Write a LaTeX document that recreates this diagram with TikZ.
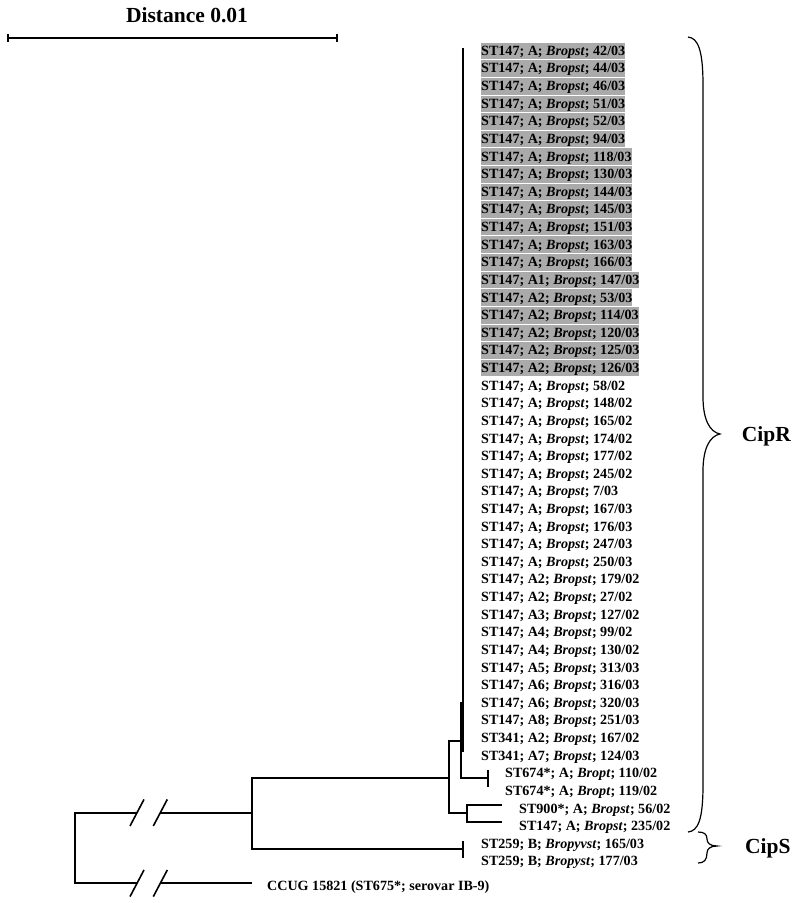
\documentclass[tikz,border=0pt]{standalone}
\usepackage{fontspec}
\setmainfont{Liberation Serif}
\usetikzlibrary{calc}
\definecolor{hl}{RGB}{170,170,170}
\begin{document}
\begin{tikzpicture}[x=1pt,y=-1pt,
  font=\bfseries\fontsize{14.1}{16}\selectfont,
  br/.style={line width=1.8pt, line join=miter},
  brk/.style={line width=1.6pt},
  brace/.style={line width=1.2pt},
  leaf/.style={anchor=base west, inner xsep=0pt, inner ysep=0pt, text height=12.7pt, text depth=3.9pt},
  hleaf/.style={leaf, fill=hl},
  big/.style={font=\bfseries\fontsize{21.5}{24}\selectfont, inner sep=0pt}]
\useasboundingbox (0,0) rectangle (800,903);

% scale bar
\node[big, anchor=base] (dist) at (187,22.7) {Distance 0.01};
\coordinate (sL) at (8.3,38.3);
\coordinate (sR) at (337.3,38.3);
\draw[line width=2pt] (sL) -- (sR);
\draw[line width=2pt] ($(sL)+(0,-4)$) -- ($(sL)+(0,4)$);
\draw[line width=2pt] ($(sR)+(0,-4)$) -- ($(sR)+(0,4)$);

% leaves, highlighted
\foreach \t [count=\i] in {
 {ST147; A; \textit{Bropst}; 42/03},
 {ST147; A; \textit{Bropst}; 44/03},
 {ST147; A; \textit{Bropst}; 46/03},
 {ST147; A; \textit{Bropst}; 51/03},
 {ST147; A; \textit{Bropst}; 52/03},
 {ST147; A; \textit{Bropst}; 94/03},
 {ST147; A; \textit{Bropst}; 118/03},
 {ST147; A; \textit{Bropst}; 130/03},
 {ST147; A; \textit{Bropst}; 144/03},
 {ST147; A; \textit{Bropst}; 145/03},
 {ST147; A; \textit{Bropst}; 151/03},
 {ST147; A; \textit{Bropst}; 163/03},
 {ST147; A; \textit{Bropst}; 166/03},
 {ST147; A1; \textit{Bropst}; 147/03},
 {ST147; A2; \textit{Bropst}; 53/03},
 {ST147; A2; \textit{Bropst}; 114/03},
 {ST147; A2; \textit{Bropst}; 120/03},
 {ST147; A2; \textit{Bropst}; 125/03},
 {ST147; A2; \textit{Bropst}; 126/03}} {
  \pgfmathsetmacro\yy{55.37+(\i-1)*17.62}
  \node[hleaf] (r\i) at (481,\yy) {\t};
}
% leaves, plain
\foreach \t [count=\i from 20] in {
 {ST147; A; \textit{Bropst}; 58/02},
 {ST147; A; \textit{Bropst}; 148/02},
 {ST147; A; \textit{Bropst}; 165/02},
 {ST147; A; \textit{Bropst}; 174/02},
 {ST147; A; \textit{Bropst}; 177/02},
 {ST147; A; \textit{Bropst}; 245/02},
 {ST147; A; \textit{Bropst}; 7/03},
 {ST147; A; \textit{Bropst}; 167/03},
 {ST147; A; \textit{Bropst}; 176/03},
 {ST147; A; \textit{Bropst}; 247/03},
 {ST147; A; \textit{Bropst}; 250/03},
 {ST147; A2; \textit{Bropst}; 179/02},
 {ST147; A2; \textit{Bropst}; 27/02},
 {ST147; A3; \textit{Bropst}; 127/02},
 {ST147; A4; \textit{Bropst}; 99/02},
 {ST147; A4; \textit{Bropst}; 130/02},
 {ST147; A5; \textit{Bropst}; 313/03},
 {ST147; A6; \textit{Bropst}; 316/03},
 {ST147; A6; \textit{Bropst}; 320/03},
 {ST147; A8; \textit{Bropst}; 251/03},
 {ST341; A2; \textit{Bropst}; 167/02},
 {ST341; A7; \textit{Bropst}; 124/03}} {
  \pgfmathsetmacro\yy{55.37+(\i-1)*17.62}
  \node[leaf] (r\i) at (481,\yy) {\t};
}
\node[leaf] (r42) at (505,777.79) {ST674*; A; \textit{Bropt}; 110/02};
\node[leaf] (r43) at (505,795.41) {ST674*; A; \textit{Bropt}; 119/02};
\node[leaf] (r44) at (519,813.03) {ST900*; A; \textit{Bropst}; 56/02};
\node[leaf] (r45) at (519,830.65) {ST147; A; \textit{Bropst}; 235/02};
\node[leaf] (r46) at (481,848.27) {ST259; B; \textit{Bropyvst}; 165/03};
\node[leaf] (r47) at (481,865.89) {ST259; B; \textit{Bropyst}; 177/03};
\node[leaf] (ccug) at (267,890.5) {CCUG 15821 (ST675*; serovar IB-9)};

% tree coordinates
\coordinate (rT) at (75,812.7);
\coordinate (rB) at (75,883.3);
\coordinate (b1) at (137,812.7);
\coordinate (b2) at (160.3,812.7);
\coordinate (b3) at (137,883.3);
\coordinate (b4) at (160.3,883.3);
\coordinate (cE) at (251.7,883.3);
\coordinate (xT) at (252,777.7);
\coordinate (xM) at (252,812.7);
\coordinate (xB) at (252,849.3);
\coordinate (n2T) at (449.3,740.7);
\coordinate (n2M) at (449.3,777.7);
\coordinate (n2B) at (449.3,812.7);
\coordinate (n1T) at (460.7,703);
\coordinate (n1M) at (460.7,740.7);
\coordinate (n1B) at (460.7,778);
\coordinate (mT) at (463.3,48);
\coordinate (mJ) at (463.3,703);
\coordinate (mB) at (463.3,752);
\coordinate (t674T) at (488,770);
\coordinate (t674M) at (488,778);
\coordinate (t674B) at (488,787);
\coordinate (n3T) at (466.7,805);
\coordinate (n3M) at (466.7,812.7);
\coordinate (n3B) at (466.7,821.7);
\coordinate (e900) at (501.7,805);
\coordinate (e235) at (501.7,821.7);
\coordinate (t259T) at (463.3,841);
\coordinate (t259M) at (463.3,849.3);
\coordinate (t259B) at (463.3,857.5);

% tree
\draw[br] (b1) -- (rT) -- (rB) -- (b3);
\draw[br] (b2) -- (xM);
\draw[br] (b4) -- (cE);
\foreach \c in {b1,b2,b3,b4}
  \draw[brk] ($(\c)+(-7,13.3)$) -- ($(\c)+(7,-13.3)$);
\draw[br] (n2M) -- (xT) -- (xB) -- (t259M);
\draw[br] (t259T) -- (t259B);
\draw[br] (n1M) -- (n2T) -- (n2B) -- (n3M);
\draw[br] (xT) -- (n2M);
\draw[br] (e900) -- (n3T) -- (n3B) -- (e235);
\draw[br] (mJ) -- (n1T) -- (n1B) -- (t674M);
\draw[br] (t674T) -- (t674B);
\draw[br] (mT) -- (mB);

% braces
\draw[brace] (688,37) .. controls (698,38) and (703,50) .. (703,85) -- (703,397)
  .. controls (703,420) and (710,432) .. (720,434)
  .. controls (710,436) and (703,448) .. (703,471) -- (703,785)
  .. controls (703,820) and (698,831) .. (688,832);
\draw[brace] (698,832) .. controls (704,832) and (707,834) .. (707,839)
  .. controls (707,843) and (710,846) .. (717,846)
  .. controls (710,846) and (707,849) .. (707,853)
  .. controls (707,860) and (704,863) .. (698,863);
\node[big, anchor=base west] (cipr) at (741.7,441) {CipR};
\node[big, anchor=base west] (cips) at (745,853.5) {CipS};
\end{tikzpicture}
\end{document}
